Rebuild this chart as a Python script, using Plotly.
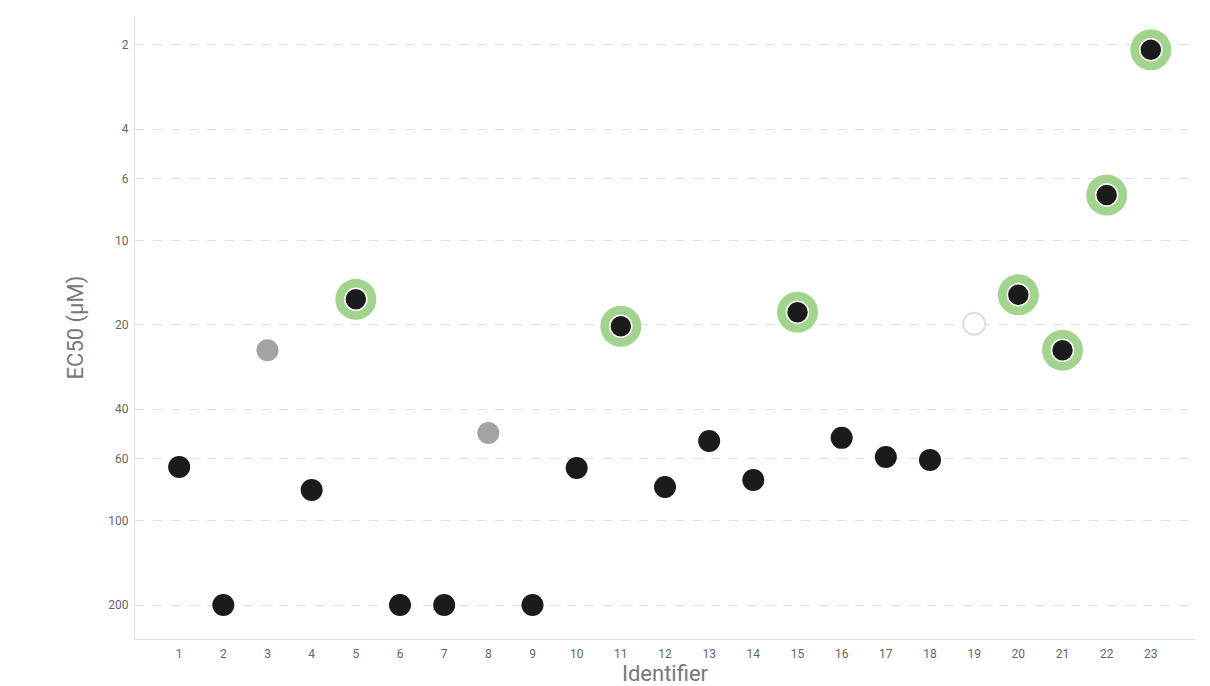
import plotly.graph_objects as go
import math

identifiers = list(range(1, 24))
ec50 = [64.3, 200, 24.6, 77.7, 16.2, 200, 200, 48.6, 200, 64.8, 20.2, 75.8,
        51.9, 71.6, 18.0, 50.6, 59.2, 60.7, 19.8, 15.6, 24.6, 6.87, 2.08]
status = ["n", "n", "g", "n", "h", "n", "n", "g", "n", "n", "h", "n",
          "n", "n", "h", "n", "n", "n", "w", "h", "h", "h", "h"]
y_ticks = [2, 4, 6, 10, 20, 40, 60, 100, 200]

fig = go.Figure()

hx = [x for x, s in zip(identifiers, status) if s == "h"]
hy = [y for y, s in zip(ec50, status) if s == "h"]
fig.add_trace(go.Scatter(x=hx, y=hy, mode="markers",
                         marker=dict(size=41, color="#a2d48e", line=dict(width=0)),
                         hoverinfo="skip", showlegend=False))

fill = {"n": "#1b1b1b", "h": "#1b1b1b", "g": "#a3a3a3", "w": "#ffffff"}
line_c = {"n": "#1b1b1b", "h": "#ffffff", "g": "#a3a3a3", "w": "#dedede"}
line_w = {"n": 0, "h": 1.5, "g": 0, "w": 2}
fig.add_trace(go.Scatter(
    x=identifiers, y=ec50, mode="markers",
    marker=dict(size=22,
                color=[fill[s] for s in status],
                line=dict(color=[line_c[s] for s in status], width=[line_w[s] for s in status])),
    showlegend=False))

fig.update_layout(
    width=1210, height=686,
    margin=dict(l=127, r=23, t=8, b=55),
    paper_bgcolor="white", plot_bgcolor="white",
    font=dict(family="Roboto", color="#666"),
    xaxis=dict(range=[0, 24], tickvals=identifiers, ticktext=[str(i) for i in identifiers],
               showgrid=False, zeroline=False, showline=True, linecolor="#e2e2e2", linewidth=1,
               ticks="", tickfont=dict(size=12, color="#666"), ticklabelstandoff=4,
               automargin=False,
               title=dict(text="Identifier", font=dict(size=22, color="#777"), standoff=4)),
    yaxis=dict(type="log", range=[math.log10(264.5), math.log10(1.576)],
               tickvals=y_ticks, ticktext=[str(v) for v in y_ticks],
               showgrid=True, gridcolor="#e0e0e0", griddash="dash", gridwidth=1,
               zeroline=False, showline=True, linecolor="#e2e2e2", linewidth=1,
               ticks="", tickfont=dict(size=12, color="#666"), ticklabelstandoff=3,
               automargin=False,
               title=dict(text="EC50 (μM)", font=dict(size=22, color="#777"), standoff=18)),
)

fig.write_html("out.html")
